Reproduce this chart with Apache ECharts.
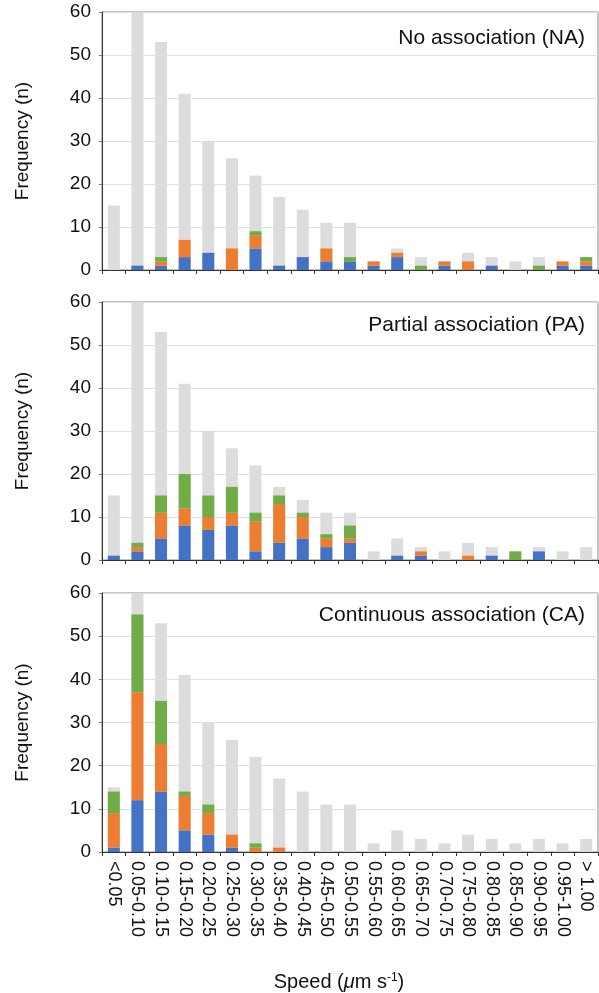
<!DOCTYPE html>
<html>
<head>
<meta charset="utf-8">
<script src="https://cdn.jsdelivr.net/npm/echarts@6/dist/echarts.min.js"></script>
<style>html,body{margin:0;padding:0;background:#fff;}#c{width:599px;height:993px;}</style>
</head>
<body>
<div id="c"></div>
<script>
const categories = ['<0.05','0.05-0.10','0.10-0.15','0.15-0.20','0.20-0.25','0.25-0.30','0.30-0.35','0.35-0.40','0.40-0.45','0.45-0.50','0.50-0.55','0.55-0.60','0.60-0.65','0.65-0.70','0.70-0.75','0.75-0.80','0.80-0.85','0.85-0.90','0.90-0.95','0.95-1.00','> 1.00'];
const yTicks = [0, 10, 20, 30, 40, 50, 60];
const panelTitles = ['No association (NA)', 'Partial association (PA)', 'Continuous association (CA)'];
const total = [15, 60, 53, 41, 30, 26, 22, 17, 14, 11, 11, 2, 5, 3, 2, 4, 3, 2, 3, 2, 3];
// No association
const naBlue   = [0, 1, 1, 3, 4, 0, 5, 1, 3, 2, 2, 1, 3, 0, 1, 0, 1, 0, 0, 1, 1];
const naOrange = [0, 0, 1, 4, 0, 5, 3, 0, 0, 3, 0, 1, 1, 0, 1, 2, 0, 0, 0, 1, 1];
const naGreen  = [0, 0, 1, 0, 0, 0, 1, 0, 0, 0, 1, 0, 0, 1, 0, 0, 0, 0, 1, 0, 1];
// Partial association
const paBlue   = [1, 2, 5, 8, 7, 8, 2, 4, 5, 3, 4, 0, 1, 1, 0, 0, 1, 0, 2, 0, 0];
const paOrange = [0, 1, 6, 4, 3, 3, 7, 9, 5, 2, 1, 0, 0, 1, 0, 1, 0, 0, 0, 0, 0];
const paGreen  = [0, 1, 4, 8, 5, 6, 2, 2, 1, 1, 3, 0, 0, 0, 0, 0, 0, 2, 0, 0, 0];
// Continuous association
const caBlue   = [1, 12, 14, 5, 4, 1, 0, 0, 0, 0, 0, 0, 0, 0, 0, 0, 0, 0, 0, 0, 0];
const caOrange = [8, 25, 11, 8, 5, 3, 1, 1, 0, 0, 0, 0, 0, 0, 0, 0, 0, 0, 0, 0, 0];
const caGreen  = [5, 18, 10, 1, 2, 0, 1, 0, 0, 0, 0, 0, 0, 0, 0, 0, 0, 0, 0, 0, 0];

const panels = [[naBlue, naOrange, naGreen], [paBlue, paOrange, paGreen], [caBlue, caOrange, caGreen]];
const colors = ['#4472C4', '#ED7D31', '#70AD47'];
const FONT = 'Liberation Sans, Arial, sans-serif';
const grids = [
  {left: 102, right: 1, top: 12, height: 258},
  {left: 102, right: 1, top: 302, height: 258},
  {left: 102, right: 1, top: 593, height: 259}
];
const option = {
  animation: false,
  textStyle: {fontFamily: FONT},
  title: panelTitles.map((t, i) => ({
    text: t, right: 9, top: [23, 310, 600][i],
    textStyle: {fontFamily: FONT, fontSize: 21, fontWeight: 'normal', color: '#111'}
  })),
  grid: grids.map(g => Object.assign({show: true, borderColor: '#8a8a8a', borderWidth: 1, containLabel: false}, g)),
  xAxis: grids.map((g, i) => ({
    type: 'category', gridIndex: i, data: categories,
    axisLine: {lineStyle: {color: '#333', width: 1}},
    axisTick: {show: true, length: 4, lineStyle: {color: '#333'}},
    axisLabel: {show: i === 2, rotate: -90, fontSize: 18, color: '#111', margin: 9, interval: 0, fontFamily: FONT},
    name: i === 2 ? '{n|Speed (}{i|μ}{n|m s}{s|-1}{n|)}' : '',
    nameLocation: 'middle', nameGap: 120, nameTextStyle: {
      padding: [0, 22, 0, 0],
      rich: {
        n: {fontSize: 20, color: '#111', fontFamily: FONT},
        i: {fontSize: 20, color: '#111', fontStyle: 'italic', fontFamily: FONT},
        s: {fontSize: 12, color: '#111', verticalAlign: 'top', padding: [0, 0, 8, 0], fontFamily: FONT}
      }
    }
  })),
  yAxis: grids.map((g, i) => ({
    type: 'value', gridIndex: i, min: 0, max: 60, interval: 10,
    axisLine: {show: true, lineStyle: {color: '#333', width: 1}},
    axisTick: {show: true, length: 3, lineStyle: {color: '#777'}},
    axisLabel: {fontSize: 19, color: '#111', margin: 11, fontFamily: FONT,
      formatter: v => yTicks.indexOf(v) >= 0 ? String(v) : ''},
    splitLine: {lineStyle: {color: '#e0e0e0', width: 1}},
    name: 'Frequency (n)', nameLocation: 'middle', nameGap: 70,
    nameTextStyle: {fontSize: 19, color: '#111', fontFamily: FONT}
  })),
  series: []
};
panels.forEach((p, i) => {
  option.series.push({
    type: 'bar', xAxisIndex: i, yAxisIndex: i, data: total, barWidth: 12, barGap: '-100%',
    itemStyle: {color: '#DCDCDC'}, z: 1, silent: true
  });
  p.forEach((arr, k) => {
    option.series.push({
      type: 'bar', xAxisIndex: i, yAxisIndex: i, data: arr, stack: 'p' + i, barWidth: 12, barGap: '-100%',
      itemStyle: {color: colors[k]}, z: 2
    });
  });
});
const chart = echarts.init(document.getElementById('c'), null, {renderer: 'canvas'});
chart.setOption(option);
</script>
</body>
</html>
